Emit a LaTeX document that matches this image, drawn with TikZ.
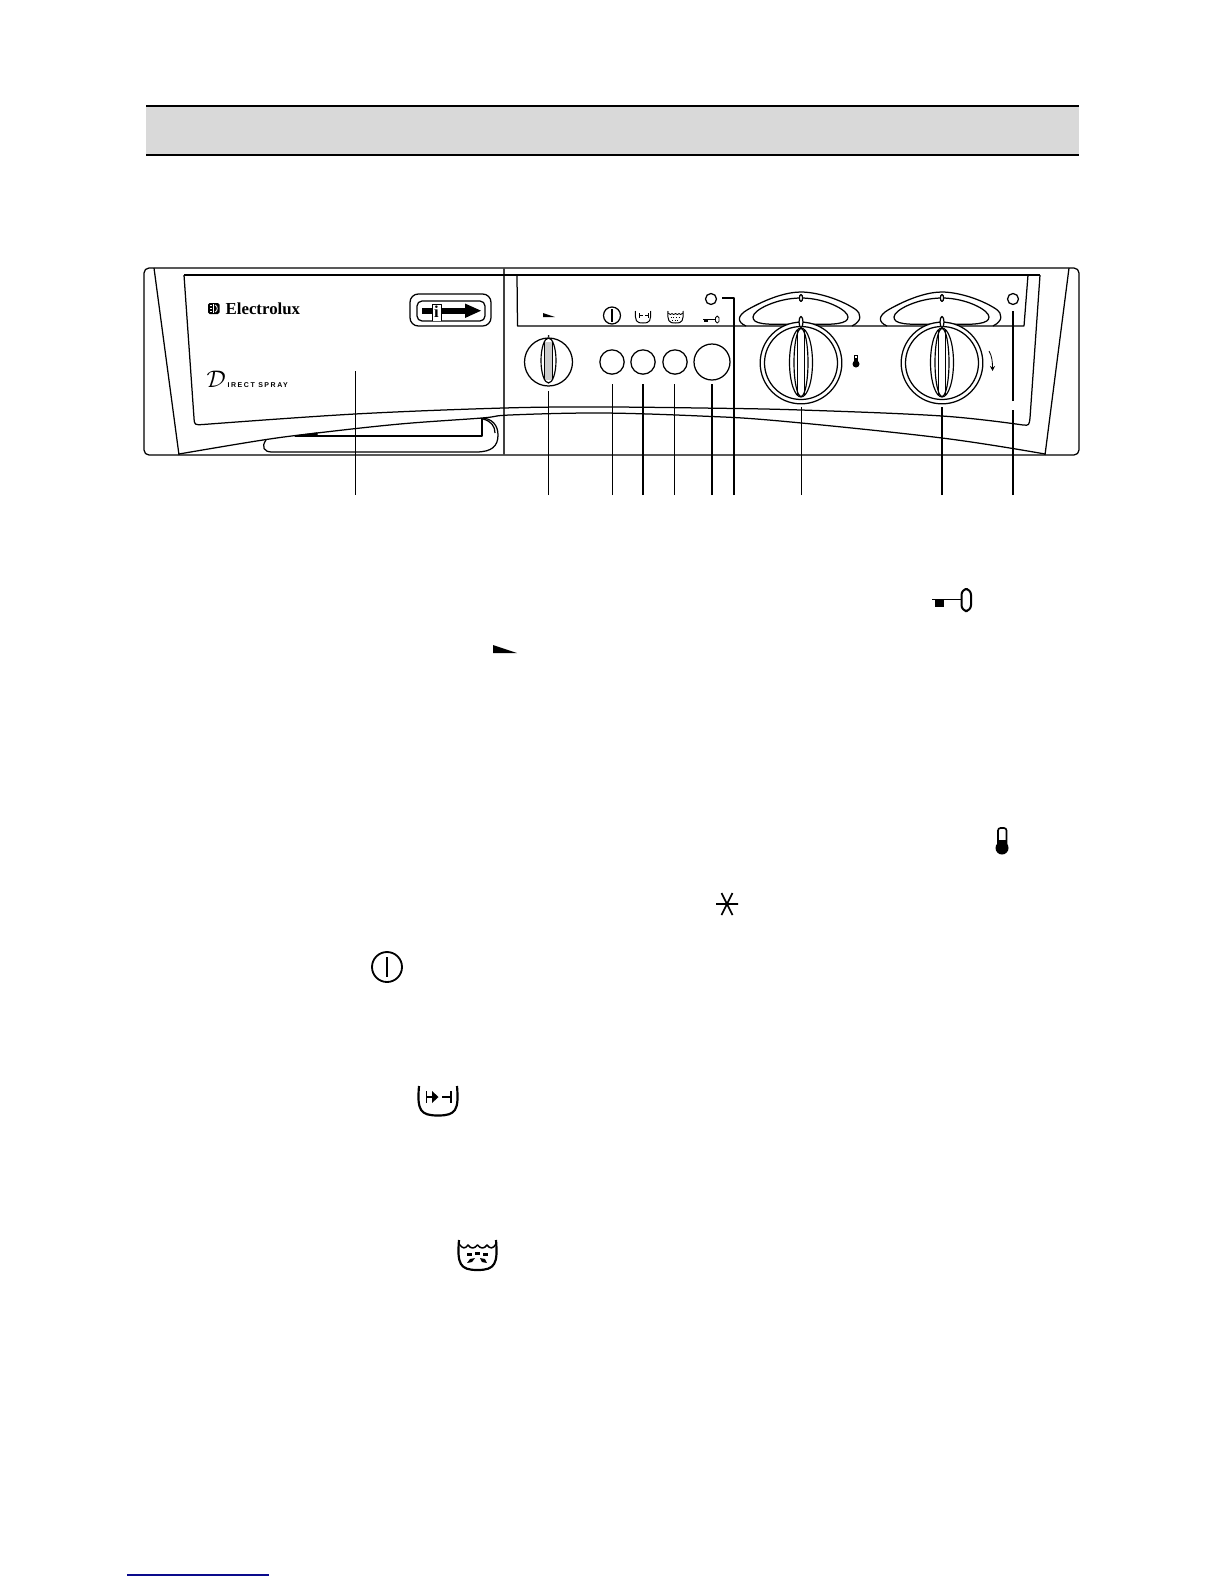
\documentclass[tikz,border=0pt]{standalone}
\usepackage{amsmath}
\usepackage{fontspec}
\setmainfont{Liberation Serif}
\newfontfamily\sprayfont[LetterSpace=22]{Liberation Sans}
\usetikzlibrary{arrows.meta}
\definecolor{bandgray}{RGB}{217,217,217}
\definecolor{rulenavy}{RGB}{10,10,140}

\begin{document}
\begin{tikzpicture}[x=0.6pt, y=-0.6pt, line width=0.75pt, line join=round,
		lead/.style={line width=0.6pt},
		leadthick/.style={line width=1.05pt},
		knob/.style={circle, draw, fill=white, inner sep=0pt, line width=0.75pt},
		dot/.style={circle, draw, inner sep=0pt, minimum size=6.6pt},
		btn/.style={circle, draw, inner sep=0pt, minimum size=14.6pt},
		grip/.style={line width=0.7pt}]
	\useasboundingbox (0, 0) rectangle (1224, 1584);

	% header band
	\fill[bandgray] (146, 106) rectangle (1079, 155);
	\draw[line width=1pt] (146, 106) -- (1079, 106);
	\draw[line width=1pt] (146, 155) -- (1079, 155);

	% panel outline
	\draw[rounded corners=3pt] (144, 268) rectangle (1079, 455);
	\draw (154, 268) -- (179, 455);
	\draw (1069, 268) -- (1045, 455);
	\draw[line width=1pt, black!75] (504, 268) -- (504, 455);
	\draw (184, 275) -- (1040, 275);
	\draw (184, 275) -- (194, 418) .. controls (194.5, 425) .. (203, 424.5)
		-- plot[smooth, tension=.6] coordinates {(203, 424.5) (355, 414) (504, 408) (600, 407) (700, 408) (801, 410) (942, 416) (1023, 425)}
		.. controls (1029, 425.5) .. (1030, 418) -- (1040, 275);
	\draw plot[smooth, tension=.6] coordinates {(179, 454) (263, 440) (317, 433) (400, 424) (482, 418) (510, 415) (600, 413) (700, 416) (780, 421) (942, 438) (1045, 454)};

	% finger slot
	\draw (266, 440) .. controls (261, 447) and (264, 452) .. (272, 452) -- (476, 452)
		.. controls (492, 452) and (498, 446) .. (498, 435) .. controls (498, 425) and (492, 419) .. (483, 418);
	\draw (483, 419) .. controls (491, 421) and (495, 426) .. (495, 433);
	\draw[line width=1.1pt] (295, 436) -- (482, 436) -- (482, 418);
	\draw[fill=black] (295, 436) -- (317, 433) -- (317, 436) -- cycle;

	% logo and lettering
	\node[inner sep=0pt, anchor=base west] (brand) at (225, 314) {\fontsize{10.1}{12}\selectfont\bfseries Electrolux};
	\fill[rounded corners=1pt] (208, 303) rectangle (219.5, 314);
	\draw[white, line width=0.6pt] (213.5, 304) -- (213.5, 313);
	\draw[white, line width=0.5pt] (210, 305.5) -- (212, 305.5) (210, 308.5) -- (212, 308.5) (210, 311.5) -- (212, 311.5);
	\draw[white, line width=0.5pt] (215, 305) .. controls (218, 306) and (218, 311) .. (215, 312);
	\node[inner sep=0pt, anchor=base west] (scriptd) at (206, 387) {\fontsize{14}{15}\selectfont $\mathcal{D}$};
	\node[inner sep=0pt, anchor=base west] (spray) at (227, 387) {\fontsize{4.2}{5}\selectfont\sprayfont\bfseries IRECT SPRAY};

	% info plate
	\draw[rounded corners=5pt] (410, 294) rectangle (491, 326);
	\draw[rounded corners=3pt] (417, 301) rectangle (485, 321);
	\fill (422, 308) rectangle (465, 313.5);
	\fill (465, 303.5) -- (481, 310.7) -- (465, 318) -- cycle;
	\draw[fill=white, line width=0.4pt] (432, 321) -- (432, 304.5) -- (441, 304.5) -- (441, 321);
	\node[inner sep=0pt] (info) at (436.5, 312) {\fontsize{10}{10}\selectfont\bfseries i};

	% control window
	\draw (517, 275) -- (517.5, 326) -- (1024, 326) -- (1028, 275);

	% programme knob
	\node[knob, minimum size=28.8pt] (k1) at (548.5, 362) {};
	\fill[black!20] (544.5, 342) rectangle (552.5, 380);
	\draw[grip] (548.5, 360.5) ellipse (7.5 and 22.5);
	\draw (544.5, 341) -- (544.5, 380) (552.5, 341) -- (552.5, 380);
	\fill (548.5, 336) circle (1);
	\node[btn] (b1) at (612, 362) {};
	\node[btn] (b2) at (643, 362) {};
	\node[btn] (b3) at (675, 362) {};
	\node[knob, minimum size=21.6pt] (b4) at (712, 362) {};
	\node[dot] (led1) at (711, 299) {};
	\node[dot] (led2) at (1013, 299) {};

	% temperature dial
	\draw (746, 326) .. controls (737, 322) and (737, 316) .. (747, 310) .. controls (768, 298) and (787, 292) .. (801, 292) .. controls (815, 292) and (838, 298) .. (855, 309) .. controls (862, 314) and (862, 321) .. (852, 326);
	\draw (794, 324) .. controls (764, 325) and (753, 324) .. (753, 317) .. controls (753, 310) and (777, 298) .. (801, 298) .. controls (825, 298) and (848, 310) .. (848, 317) .. controls (848, 324) and (834, 325) .. (809, 324);
	\draw[fill=white] (801, 298) ellipse (1.6 and 3.5);
	\node[knob, minimum size=49pt] (k2) at (801, 363) {};
	\draw (801, 363) circle (36.5);
	\draw[fill=white] (801, 322) ellipse (2 and 5.5);
	\draw[grip, fill=white] (801, 362.5) ellipse (11.5 and 34.5);
	\draw[grip] (801, 362.5) ellipse (7 and 34);
	\draw (797.5, 330) -- (797.5, 395) (804.5, 330) -- (804.5, 395);

	% time dial
	\draw (887, 326) .. controls (878, 322) and (878, 316) .. (888, 310) .. controls (909, 298) and (928, 292) .. (942, 292) .. controls (956, 292) and (979, 298) .. (996, 309) .. controls (1003, 314) and (1003, 321) .. (993, 326);
	\draw (935, 324) .. controls (905, 325) and (894, 324) .. (894, 317) .. controls (894, 310) and (918, 298) .. (942, 298) .. controls (966, 298) and (989, 310) .. (989, 317) .. controls (989, 324) and (975, 325) .. (950, 324);
	\draw[fill=white] (942, 298) ellipse (1.6 and 3.5);
	\node[knob, minimum size=49pt] (k3) at (942, 363) {};
	\draw (942, 363) circle (36.5);
	\draw[fill=white] (942, 322) ellipse (2 and 5.5);
	\draw[grip, fill=white] (942, 362.5) ellipse (11.5 and 34.5);
	\draw[grip] (942, 362.5) ellipse (7 and 34);
	\draw (938.5, 330) -- (938.5, 395) (945.5, 330) -- (945.5, 395);

	% small symbols on the panel
	\fill (543, 313) -- (555, 317) -- (543, 317) -- cycle;
	\draw (612, 315.5) circle (8.5);
	\draw (612, 309) -- (612, 322);
	\draw[line width=0.6pt] (635.5, 311) .. controls (635, 321) and (636, 323) .. (643, 323) .. controls (650, 323) and (651, 321) .. (650.5, 311);
	\draw[line width=0.5pt] (639, 313) -- (639, 318) (639, 315.5) -- (643, 315.5) (648, 315.5) -- (645, 315.5) (648, 313) -- (648, 318);
	\draw[line width=0.6pt] (668, 311) .. controls (667.5, 321) and (668.5, 323) .. (675.5, 323) .. controls (682.5, 323) and (683.5, 321) .. (683, 311);
	\draw[line width=0.5pt] (668, 313) .. controls (670, 315) and (671, 315) .. (672, 313.5) .. controls (673, 315) and (674, 315) .. (675.5, 313.5) .. controls (677, 315) and (678, 315) .. (679, 313.5) .. controls (680, 315) and (681, 315) .. (683, 313);
	\draw[line width=0.6pt, densely dotted] (670.5, 317) -- (680.5, 317);
	\draw[line width=0.6pt, densely dotted] (672, 320) -- (679, 320);
	\fill (703, 319.3) rectangle (715, 320.4);
	\fill (704, 320) rectangle (708, 322.3);
	\draw[line width=0.5pt, rounded corners=1pt] (715.5, 316) rectangle (719, 323);
	\fill (856, 364) circle (3.5);
	\draw[line width=0.6pt, fill=black] (854.5, 355) -- (854.5, 364) -- (857.5, 364) -- (857.5, 355) -- cycle;
	\fill[white] (855, 355.5) rectangle (857, 358);
	\draw[-{Stealth[length=3pt, width=3pt]}, line width=0.5pt] (989, 351) .. controls (992, 356) and (992.5, 362) .. (992.5, 371);

	% large symbols in the text
	\fill (493, 645) -- (517, 653) -- (493, 653) -- cycle;

	\draw[line width=1.1pt] (932, 599.5) -- (961, 599.5);
	\fill (935, 599.5) rectangle (943.5, 607);
	\draw[line width=1.2pt, rounded corners=3.5pt] (961.5, 589) rectangle (971, 611);

	\fill (1002, 848) circle (6.5);
	\draw[line width=1pt, rounded corners=1.5pt] (998, 845) -- (998, 828) -- (1006.5, 828) -- (1006.5, 845);
	\fill (998, 840) rectangle (1006.5, 846);

	\draw[line width=1pt] (716, 904) -- (738, 904) (721.5, 893) -- (732.5, 915) (732.5, 893) -- (721.5, 915);

	\draw[line width=1.1pt] (387, 967) circle (15);
	\draw[line width=1.1pt] (387, 957) -- (387, 977);

	\draw[line width=1.3pt] (419, 1086) .. controls (417, 1110) and (420, 1115.5) .. (438, 1115.5) .. controls (456, 1115.5) and (459, 1110) .. (457, 1086);
	\draw[line width=1.1pt] (426.5, 1091) -- (426.5, 1103) (426.5, 1097) -- (434, 1097);
	\fill (432, 1091) -- (438.5, 1097) -- (432, 1103) -- cycle;
	\draw[line width=0.8pt] (442, 1097) -- (451, 1097) (451, 1091) -- (451, 1103);

	\draw[line width=1.3pt] (459, 1240) .. controls (457, 1264) and (460, 1270) .. (477.5, 1270) .. controls (495, 1270) and (498, 1264) .. (496, 1240);
	\draw[line width=0.9pt] (459, 1244) .. controls (463, 1249) and (465, 1249) .. (468, 1245) .. controls (471, 1249) and (474, 1249) .. (477.5, 1245) .. controls (481, 1249) and (484, 1249) .. (487, 1245) .. controls (490, 1249) and (493, 1249) .. (496, 1244);
	\fill (467, 1253) rectangle (472, 1255.5);
	\fill (475, 1252) rectangle (480, 1254.5);
	\fill (483, 1253) rectangle (488, 1255.5);
	\fill (470, 1259) -- (475, 1258) -- (472, 1262) -- (467, 1263) -- cycle;
	\fill (480, 1258) -- (485, 1259) -- (487, 1263) -- (482, 1262) -- cycle;

	% leader lines
	\coordinate (e0) at (355, 495);
	\coordinate (e1) at (548.5, 495);
	\coordinate (e2) at (612, 495);
	\coordinate (e3) at (643, 495);
	\coordinate (e4) at (674.5, 495);
	\coordinate (e5) at (712, 495);
	\coordinate (e6) at (734, 495);
	\coordinate (e7) at (801, 495);
	\coordinate (e8) at (942, 495);
	\coordinate (e9) at (1013, 495);
	\coordinate (s0) at (355, 371);
	\draw[lead] (s0) -- (e0);
	\draw[lead] (e1) -- (548.5, 391);
	\draw[lead] (e2) -- (612, 384);
	\draw[leadthick] (e3) -- (643, 384);
	\draw[lead] (e4) -- (674.5, 384);
	\draw[leadthick] (e5) -- (712, 384);
	\draw[leadthick] (e6) -- (734, 298) -- (722, 298);
	\draw[lead] (e7) -- (801, 407);
	\draw[leadthick] (e8) -- (942, 407);
	\draw[leadthick] (e9) -- (1013, 410);
	\draw[leadthick] (1013, 401) -- (1013, 311);

	% rule at the foot
	\draw[rulenavy, line width=0.8pt] (127, 1575) -- (269, 1575);
\end{tikzpicture}
\end{document}
